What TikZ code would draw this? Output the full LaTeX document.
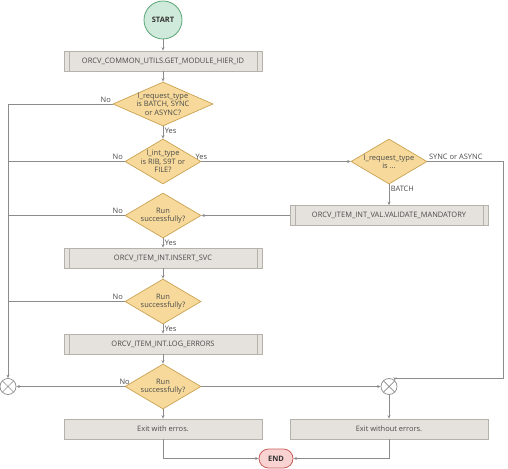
\documentclass[tikz,border=0pt]{standalone}
\usepackage{fontspec}
\setmainfont{Open Sans}
\usetikzlibrary{shapes.geometric,arrows.meta}

\definecolor{linegray}{HTML}{8C8C8C}
\definecolor{textgray}{HTML}{4A4A4A}
\definecolor{boxfill}{HTML}{E5E2DD}
\definecolor{boxline}{HTML}{B5B1AB}
\definecolor{decfill}{HTML}{F7DA9B}
\definecolor{decline}{HTML}{C9A252}
\definecolor{startfill}{HTML}{CFEADA}
\definecolor{startline}{HTML}{58A577}
\definecolor{endfill}{HTML}{F8D3D2}
\definecolor{endline}{HTML}{CC5F5D}

\tikzset{
  every node/.style={font=\fontsize{7.5}{8.5}\selectfont, text=textgray},
  plainbox/.style={draw=boxline, fill=boxfill, line width=0.7bp, minimum width=198bp, minimum height=20bp, inner sep=0pt},
  process/.style={plainbox, path picture={
      \draw[boxline, line width=0.7bp]
        ([xshift=5bp]path picture bounding box.north west) -- ([xshift=5bp]path picture bounding box.south west)
        ([xshift=-5bp]path picture bounding box.north east) -- ([xshift=-5bp]path picture bounding box.south east);}},
  decision/.style={diamond, draw=decline, fill=decfill, line width=0.7bp, inner sep=0pt, minimum width=76bp, minimum height=45bp},
  merge/.style={circle, draw=linegray, fill=white, line width=0.7bp, minimum size=16bp, inner sep=0pt, path picture={
      \draw[linegray, line width=0.7bp]
        (path picture bounding box.north west) -- (path picture bounding box.south east)
        (path picture bounding box.north east) -- (path picture bounding box.south west);}},
  flow/.style={draw=linegray, line width=0.7bp},
  tag/.style={inner sep=1.5bp},
  >={Stealth[length=3.5bp,width=3bp]}
}

\begin{document}
\begin{tikzpicture}[x=1bp,y=-1bp]
  \useasboundingbox (0,0) rectangle (508,469);

  \node[circle, draw=startline, fill=startfill, line width=0.8bp, minimum size=38bp, inner sep=0pt, font=\fontsize{7.5}{8.5}\selectfont\bfseries, text=black!80] (start) at (163,20) {START};
  \node[process] (hier) at (163,61) {ORCV\_COMMON\_UTILS.GET\_MODULE\_HIER\_ID};
  \node[decision, minimum width=100bp, minimum height=44bp, label={[align=center]center:l\_request\_type\\is BATCH, SYNC\\or ASYNC?}] (reqtype) at (163,104) {};
  \node[decision, label={[align=center]center:l\_int\_type\\is RIB, S9T or\\FILE?}] (inttype) at (163,161.5) {};
  \node[decision, label={[align=center]center:l\_request\_type\\is ...}] (reqtype2) at (389,161.5) {};
  \node[process] (validate) at (389,215.5) {ORCV\_ITEM\_INT\_VAL.VALIDATE\_MANDATORY};
  \node[decision, label={[align=center]center:Run\\successfully?}] (runa) at (163,215.5) {};
  \node[process] (insert) at (163,258) {ORCV\_ITEM\_INT.INSERT\_SVC};
  \node[decision, label={[align=center]center:Run\\successfully?}] (runb) at (163,301.5) {};
  \node[process] (logerr) at (163,344) {ORCV\_ITEM\_INT.LOG\_ERRORS};
  \node[decision, label={[align=center]center:Run\\successfully?}] (runc) at (163,386.5) {};
  \node[merge] (mergeL) at (8,386.5) {};
  \node[merge] (mergeR) at (389,386.5) {};
  \node[plainbox] (exiterr) at (163,429) {Exit with erros.};
  \node[plainbox] (exitok) at (389,429) {Exit without errors.};
  \node[draw=endline, fill=endfill, line width=0.8bp, rounded corners=9.5bp, minimum width=34bp, minimum height=19bp, inner sep=0pt, font=\fontsize{7.5}{8.5}\selectfont\bfseries, text=black!80] (stop) at (276,458.5) {END};
  \coordinate (wrap) at (503,378);

  \draw[flow,->] (start) -- (hier);
  \draw[flow,->] (hier) -- (reqtype);
  \draw[flow,->] (reqtype.south) -- (inttype.north) node[tag, pos=0, below right] {Yes};
  \draw[flow,->] (reqtype.west) -| (mergeL) node[tag, pos=0, above left] {No};
  \draw[flow] (inttype.west) -- (inttype.west -| mergeL) node[tag, pos=0, above left] {No};
  \draw[flow,->] (inttype.east) -- (reqtype2.west) node[tag, pos=0, above] {Yes};
  \draw[flow,->] (reqtype2.south) -- (validate.north) node[tag, pos=0, below right] {BATCH};
  \draw[flow,->] (reqtype2.east) -| (wrap) -| (mergeR.45);
  \node[tag, above right] at (reqtype2.east) {SYNC or ASYNC};
  \draw[flow,->] (validate.west) -- (runa.east);
  \draw[flow] (runa.west) -- (runa.west -| mergeL) node[tag, pos=0, above left] {No};
  \draw[flow,->] (runa.south) -- (insert.north) node[tag, pos=0, below right] {Yes};
  \draw[flow,->] (insert) -- (runb);
  \draw[flow] (runb.west) -- (runb.west -| mergeL) node[tag, pos=0, above left] {No};
  \draw[flow,->] (runb.south) -- (logerr.north) node[tag, pos=0, below right] {Yes};
  \draw[flow,->] (logerr) -- (runc);
  \draw[flow,->] (runc.west) -- (mergeL) node[tag, pos=0, above] {No};
  \draw[flow,->] (runc.east) -- (mergeR);
  \draw[flow,->] (runc.south) -- (exiterr.north);
  \draw[flow,->] (mergeR) -- (exitok.north);
  \draw[flow,->] (exiterr.south) |- (stop.west);
  \draw[flow,->] (exitok.south) |- (stop.east);
\end{tikzpicture}
\end{document}
